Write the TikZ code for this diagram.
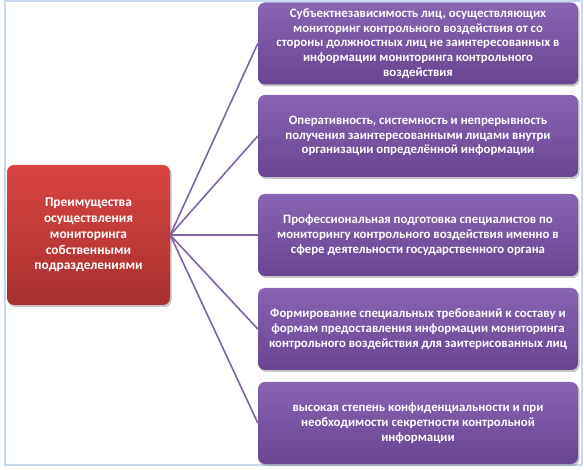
\documentclass[tikz,border=0pt]{standalone}
\usepackage{fontspec}
\setmainfont{Carlito}
\usetikzlibrary{shadows}

\definecolor{redtop}{HTML}{DA4542}
\definecolor{redbottom}{HTML}{A7302E}
\definecolor{violettop}{HTML}{8864B3}
\definecolor{violetbottom}{HTML}{684491}
\definecolor{linkviolet}{HTML}{8064A2}
\definecolor{frameblue}{HTML}{C6D9F1}

\tikzset{
  basebox/.style={rounded corners=7pt, inner sep=2pt, align=center, text=white,
    font=\bfseries\fontsize{12.8}{14.7}\selectfont,
    drop shadow={opacity=0.45, shadow xshift=1.5pt, shadow yshift=-2pt}},
  mainbox/.style={basebox, minimum width=163pt, minimum height=140pt,
    font=\bfseries\fontsize{13.4}{15.8}\selectfont,
    top color=redtop, bottom color=redbottom},
  featbox/.style={basebox, minimum width=320pt, minimum height=82pt,
    top color=violettop, bottom color=violetbottom},
  link/.style={draw=linkviolet, line width=1.6pt}
}

\begin{document}
\begin{tikzpicture}[x=1pt, y=-1pt]
  \useasboundingbox (0,0) rectangle (584,470);

  % Light frame round the picture
  \draw[frameblue, line width=1.5pt] (5,1) rectangle (582,465);

  % Main box on the left
  \node[mainbox] (adv) at (88.5,235) {Преимущества\\осуществления\\мониторинга\\собственными\\подразделениями};

  % Five boxes on the right
  \node[featbox] (f1) at (418,43.5) {Субъектнезависимость лиц, осуществляющих\\мониторинг контрольного  воздействия от со\\стороны должностных лиц не заинтересованных в\\информации мониторинга  контрольного\\воздействия};
  \node[featbox] (f2) at (418,136) {Оперативность, системность и непрерывность\\получения заинтересованными лицами внутри\\организации определённой информации};
  \node[featbox] (f3) at (418,235) {Профессиональная подготовка  специалистов по\\мониторингу контрольного  воздействия именно в\\сфере деятельности государственного  органа};
  \node[featbox] (f4) at (418,329) {Формирование специальных требований к составу и\\формам предоставления информации мониторинга\\контрольного воздействия для заитерисованных лиц};
  \node[featbox] (f5) at (418,423) {высокая степень конфиденциальности и при\\необходимости секретности контрольной\\информации};

  % Connectors
  \foreach \f in {f1,f2,f3,f4,f5}
    \draw[link] (adv.east) -- (\f.west);
\end{tikzpicture}
\end{document}
